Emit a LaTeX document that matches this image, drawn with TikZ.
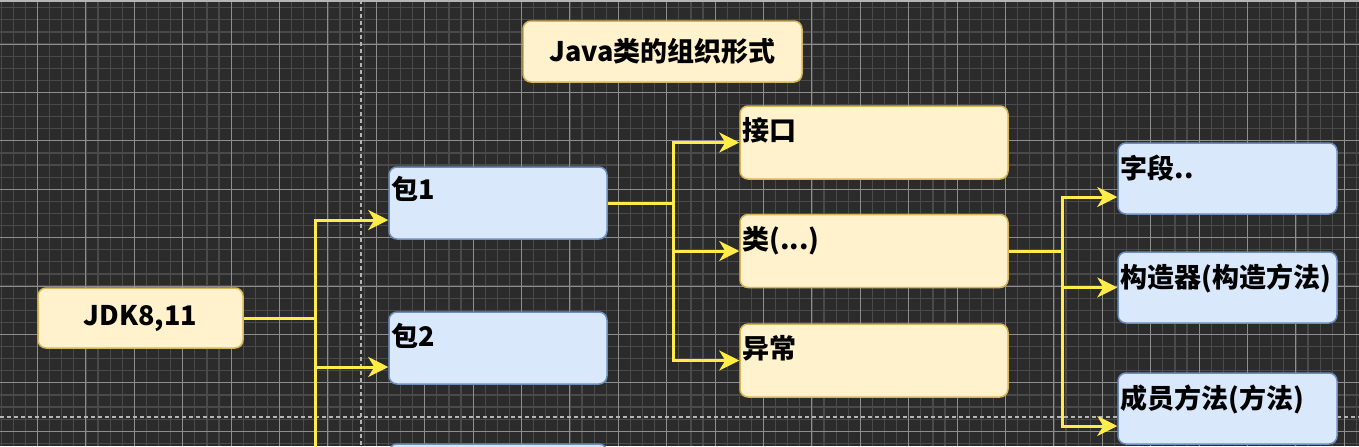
\documentclass[tikz,border=0pt]{standalone}
\usepackage{fontspec}
\setmainfont{Noto Sans CJK SC}
\usetikzlibrary{arrows.meta,calc}

\definecolor{canvas}{HTML}{2B2B2B}
\definecolor{minorline}{HTML}{4A4A4A}
\definecolor{majorline}{HTML}{8E8E8E}
\definecolor{pageline}{HTML}{B5B5B5}
\definecolor{wireyellow}{HTML}{FFEC4A}
\definecolor{ylwfill}{HTML}{FFF2CC}
\definecolor{ylwdraw}{HTML}{D6B656}
\definecolor{blufill}{HTML}{DAE8FC}
\definecolor{bludraw}{HTML}{6C8EBF}

\tikzset{
  box/.style={rounded corners=4pt, line width=0.75pt, inner sep=0pt,
    font=\fontsize{13.5}{16}\selectfont\bfseries},
  ylwbox/.style={box, fill=ylwfill, draw=ylwdraw},
  blubox/.style={box, fill=blufill, draw=bludraw},
  pkgsize/.style={minimum width=109pt, minimum height=36pt},
  kindsize/.style={minimum width=134pt, minimum height=36.5pt},
  partsize/.style={minimum width=109.5pt, minimum height=35.5pt},
  tag/.style={anchor=north west, inner sep=0pt,
    font=\fontsize{13.5}{16}\selectfont\bfseries},
  wire/.style={draw=wireyellow, line width=1.5pt},
  feed/.style={wire, -{Stealth[length=10pt,width=10pt,inset=3pt]}},
}

\begin{document}
\begin{tikzpicture}[x=0.5pt,y=-0.5pt]
\useasboundingbox (0,0) rectangle (1359,446);
\clip (0,0) rectangle (1359,446);

% canvas and grid
\fill[canvas] (0,0) rectangle (1359,446);
\foreach \i in {0,...,112} \draw[minorline,line width=0.6pt] ({1.2+12.1*\i},0) -- ++(0,446);
\foreach \j in {0,...,37} \draw[minorline,line width=0.6pt] (0,{-4.4+12.1*\j}) -- ++(1359,0);
\foreach \i in {0,...,28} \draw[majorline,line width=0.5pt] ({37.5+48.4*\i},0) -- ++(0,446);
\foreach \j in {0,...,9} \draw[majorline,line width=0.5pt] (0,{-4.4+48.4*\j}) -- ++(1359,0);
\fill[pageline] (0,0) rectangle (1359,1.5);
\draw[pageline,line width=0.6pt,dash pattern=on 2pt off 1.5pt] (361,0) -- (361,446);
\draw[pageline,line width=0.6pt,dash pattern=on 2pt off 1.5pt] (0,417) -- (1359,417);

% boxes
\node[ylwbox, minimum width=139.5pt, minimum height=30.5pt] (title) at (662.5,51.5) {Java类的组织形式};
\node[ylwbox, minimum width=102.5pt, minimum height=30pt] (jdk) at (140.5,318) {JDK8,11};

\node[blubox, pkgsize] (pkg1) at (498,203) {};
\node[blubox, pkgsize] (pkg2) at (498,348) {};
\node[blubox, pkgsize] (pkg3) at (498,480) {};

\node[ylwbox, kindsize] (iface) at (874,142.5) {};
\node[ylwbox, kindsize] (cls) at (874,251) {};
\node[ylwbox, kindsize] (exc) at (874,360.5) {};

\node[blubox, partsize] (field) at (1227.5,178.5) {};
\node[blubox, partsize] (ctor) at (1227.5,287.5) {};
\node[blubox, partsize] (meth) at (1227.5,408.5) {};

% texts in the top left corners
\node[tag] (pkg1-t) at ($(pkg1.north west)+(3,10)$) {包1};
\node[tag] (pkg2-t) at ($(pkg2.north west)+(3,12)$) {包2};
\node[tag] (iface-t) at ($(iface.north west)+(3,12)$) {接口};
\node[tag] (cls-t) at ($(cls.north west)+(3,12)$) {类(...)};
\node[tag] (exc-t) at ($(exc.north west)+(3,12)$) {异常};
\node[tag] (field-t) at ($(field.north west)+(3,12)$) {字段..};
\node[tag] (ctor-t) at ($(ctor.north west)+(3,12)$) {构造器(构造方法)};
\node[tag] (meth-t) at ($(meth.north west)+(3,12)$) {成员方法(方法)};

% connectors
\coordinate (bus1) at (315,318);
\draw[wire] (jdk.east) -- (bus1);
\draw[feed] (bus1) |- ($(pkg1.west)+(0,17)$);
\draw[feed] (bus1) |- ($(pkg2.west)+(0,19)$);
\draw[feed] (bus1) |- ($(pkg3.west)+(0,17)$);

\coordinate (bus2) at (673,203);
\draw[wire] (pkg1.east) -- (bus2);
\draw[feed] (bus2) |- (iface.west);
\draw[feed] (bus2) |- (cls.west);
\draw[feed] (bus2) |- (exc.west);

\coordinate (bus3) at (1062,251);
\draw[wire] (cls.east) -- (bus3);
\draw[feed] (bus3) |- ($(field.west)+(0,18.5)$);
\draw[feed] (bus3) |- (ctor.west);
\draw[feed] (bus3) |- ($(meth.west)+(0,17.5)$);
\end{tikzpicture}
\end{document}
